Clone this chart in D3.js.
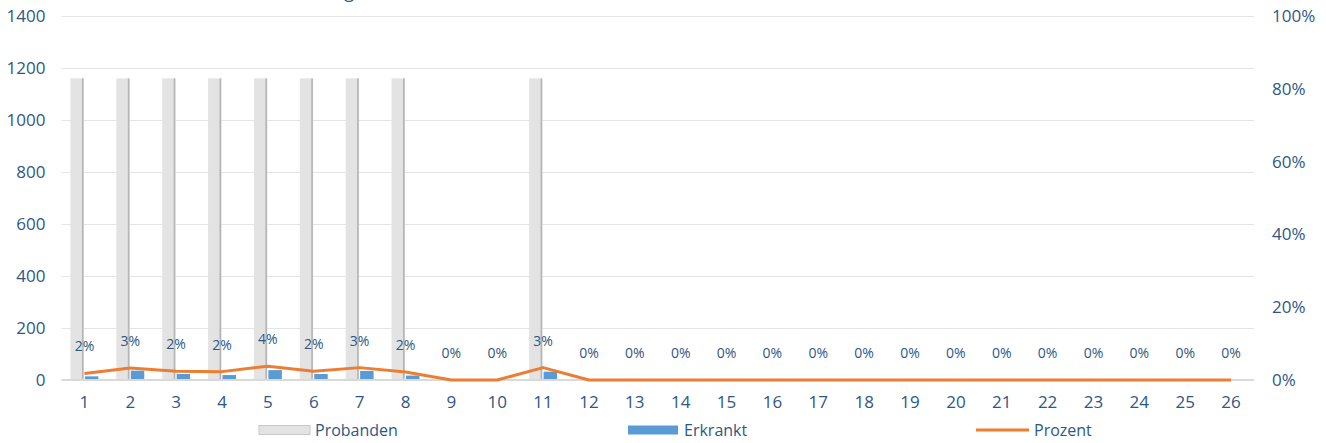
<!DOCTYPE html>
<html>
<head>
<meta charset="utf-8">
<script src="https://cdn.jsdelivr.net/npm/d3@7"></script>
<style>
  html, body { margin: 0; padding: 0; background: #fff; }
  svg { display: block; font-family: "Open Sans", "Liberation Sans", sans-serif; }
</style>
</head>
<body>
<svg id="chart" width="1326" height="443"></svg>
<script>
// ---- Data ----
const categories = ["1","2","3","4","5","6","7","8","9","10","11","12","13","14","15","16","17","18","19","20","21","22","23","24","25","26"];
const probanden = [1160,1160,1160,1160,1160,1160,1160,1160,0,0,1160,0,0,0,0,0,0,0,0,0,0,0,0,0,0,0];
const erkrankt  = [14,36,23,19,38,23,35,17,0,0,32,0,0,0,0,0,0,0,0,0,0,0,0,0,0,0];
const prozent   = [1.8,3.3,2.4,2.3,3.8,2.4,3.4,2.2,0,0,3.4,0,0,0,0,0,0,0,0,0,0,0,0,0,0,0];
const leftTicks = [0,200,400,600,800,1000,1200,1400];
const rightTicks = [0,20,40,60,80,100];
const seriesNames = ["Probanden","Erkrankt","Prozent"];
const titleText = "Erkrankung";

(function () {
// ---- Layout ----
const svg = d3.select("#chart");
const mLeft = 61.5, mRight = 1254, mTop = 16, mBottom = 380;
const textColor = "#2f5785";

const x0 = d3.scaleBand().domain(categories).range([mLeft, mRight]).padding(0);
const x1 = d3.scaleBand().domain(["Probanden","Erkrankt"]).range([0, x0.bandwidth()])
  .paddingInner(0.07).paddingOuter(0.62);
const yL = d3.scaleLinear().domain([0,1400]).range([mBottom, mTop]);
const yR = d3.scaleLinear().domain([0,100]).range([mBottom, mTop]);

// partially visible title (cut off at top, as in the reference)
svg.append("text").attr("x", 354).attr("y", -2).attr("text-anchor","end")
  .attr("font-size", 18).attr("fill", textColor).text(titleText);

// gridlines
svg.append("g").selectAll("line").data(leftTicks.filter(d => d > 0)).join("line")
  .attr("x1", mLeft).attr("x2", mRight)
  .attr("y1", d => Math.round(yL(d)) + 0.5).attr("y2", d => Math.round(yL(d)) + 0.5)
  .attr("stroke", "#e4e4e4").attr("stroke-width", 1);

// left axis
const axL = svg.append("g").attr("transform", `translate(${mLeft - 16},0)`)
  .call(d3.axisLeft(yL).tickValues(leftTicks).tickFormat(d => String(d)).tickSize(0).tickPadding(0));
axL.select(".domain").remove();
axL.selectAll("text").attr("font-size", 17).attr("fill", textColor)
  .attr("font-family", "Open Sans, Liberation Sans, sans-serif");

// right axis
const axR = svg.append("g").attr("transform", `translate(${mRight + 18},0)`)
  .call(d3.axisRight(yR).tickValues(rightTicks).tickFormat(d => d + "%").tickSize(0).tickPadding(0));
axR.select(".domain").remove();
axR.selectAll("text").attr("font-size", 17).attr("fill", textColor)
  .attr("font-family", "Open Sans, Liberation Sans, sans-serif");

// Probanden bars
const gP = svg.append("g");
categories.forEach((c, i) => {
  if (probanden[i] <= 0) return;
  const bx = x0(c) + x1("Probanden"), bw = x1.bandwidth();
  gP.append("rect").attr("x", bx).attr("y", yL(probanden[i]))
    .attr("width", bw).attr("height", yL(0) - yL(probanden[i]))
    .attr("fill", "#e3e3e3");
  gP.append("rect").attr("x", bx + bw - 2).attr("y", yL(probanden[i]))
    .attr("width", 1.6).attr("height", yL(0) - yL(probanden[i]))
    .attr("fill", "#b5b5b5");
});

// Erkrankt bars
svg.append("g").selectAll("rect").data(categories).join("rect")
  .attr("x", c => x0(c) + x1("Erkrankt"))
  .attr("y", (c, i) => yL(erkrankt[i]))
  .attr("width", x1.bandwidth())
  .attr("height", (c, i) => yL(0) - yL(erkrankt[i]))
  .attr("fill", "#5b9bd5");

// x axis baseline
svg.append("line").attr("x1", mLeft).attr("x2", mRight).attr("y1", mBottom).attr("y2", mBottom)
  .attr("stroke", "#d9d9d9").attr("stroke-width", 2);

// x axis labels
const axB = svg.append("g").attr("transform", `translate(0,${mBottom + 16})`)
  .call(d3.axisBottom(x0).tickSize(0).tickPadding(0));
axB.select(".domain").remove();
axB.selectAll("text").attr("font-size", 17).attr("fill", textColor)
  .attr("font-family", "Open Sans, Liberation Sans, sans-serif");

// Prozent line
const line = d3.line().x((d, i) => x0(categories[i]) + x0.bandwidth() / 2).y(d => yR(d));
svg.append("path").datum(prozent).attr("d", line)
  .attr("fill", "none").attr("stroke", "#ed7d31").attr("stroke-width", 3)
  .attr("stroke-linejoin", "round");

// data labels
svg.append("g").selectAll("text").data(prozent).join("text")
  .attr("x", (d, i) => x0(categories[i]) + x0.bandwidth() / 2)
  .attr("y", d => yR(d) - 27)
  .attr("dy", "0.35em")
  .attr("text-anchor", "middle")
  .attr("font-size", 14).attr("fill", textColor)
  .text(d => Math.round(d) + "%");

// legend
const lg = svg.append("g");
const ly = 430;
lg.append("rect").attr("x", 259).attr("y", ly - 4.5).attr("width", 51).attr("height", 9)
  .attr("fill", "#e3e3e3").attr("stroke", "#c8c8c8").attr("stroke-width", 1);
lg.append("text").attr("x", 315).attr("y", ly).attr("dy", "0.35em").attr("font-size", 16)
  .attr("fill", textColor).text(seriesNames[0]);
lg.append("rect").attr("x", 628).attr("y", ly - 4.5).attr("width", 50).attr("height", 9)
  .attr("fill", "#5b9bd5");
lg.append("text").attr("x", 684).attr("y", ly).attr("dy", "0.35em").attr("font-size", 16)
  .attr("fill", textColor).text(seriesNames[1]);
lg.append("line").attr("x1", 976).attr("x2", 1029).attr("y1", ly).attr("y2", ly)
  .attr("stroke", "#ed7d31").attr("stroke-width", 3);
lg.append("text").attr("x", 1034).attr("y", ly).attr("dy", "0.35em").attr("font-size", 16)
  .attr("fill", textColor).text(seriesNames[2]);
})();
</script>
</body>
</html>
